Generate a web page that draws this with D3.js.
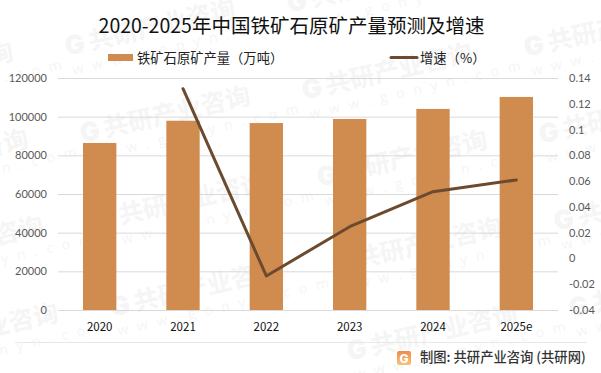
<!DOCTYPE html>
<html>
<head>
<meta charset="utf-8">
<script src="https://cdn.jsdelivr.net/npm/d3@7/dist/d3.min.js"></script>
<style>
html, body { margin: 0; padding: 0; background: #fff; }
svg { display: block; font-family: "Noto Sans CJK SC", sans-serif; }
</style>
</head>
<body>
<svg id="chart" width="601" height="373"></svg>
<script>
var years = ["2020", "2021", "2022", "2023", "2024", "2025e"];
var output = [86400, 97900, 96700, 98800, 104000, 110200];
var growth = [null, 0.1317, -0.0136, 0.0246, 0.0518, 0.0609];
var leftTicks = [0, 20000, 40000, 60000, 80000, 100000, 120000];
var rightTicks = [-0.04, -0.02, 0, 0.02, 0.04, 0.06, 0.08, 0.1, 0.12, 0.14];

var bar_color = "#d08b4e";
var line_color = "#6b4a2e";
var wm_color = "#f5f5f5";
var margin = {top: 78, bottom: 63, left: 58, right: 43};
var width = 601;
var height = 373;

var svg = d3.select("#chart");

/* Watermark sits behind everything, skip copies that land fully off the page */
var wm = svg.append("g").attr("class", "watermark");
for (var i = -1; i <= 4; i++) {
    for (var j = -1; j <= 2; j++) {
        var wx = 65 + i * 15 + j * 237;
        var wy = 46 + i * 87 + j * 44;
        if (wx < -175 || wx > 590 || wy < -5 || wy > 385) continue;
        var g = wm.append("g")
            .attr("transform", "translate(" + wx + "," + wy + ") rotate(-13)");
        g.append("text")
            .attr("x", 0).attr("y", 10)
            .attr("font-family", "Inter, sans-serif")
            .attr("font-weight", 900)
            .attr("font-size", 26)
            .attr("fill", wm_color)
            .text("G");
        g.append("text")
            .attr("x", 24).attr("y", 10)
            .attr("font-weight", 700)
            .attr("font-size", 25)
            .attr("fill", wm_color)
            .text("共研产业咨询");
        g.append("text")
            .attr("x", 2).attr("y", 30)
            .attr("font-family", "Open Sans, sans-serif")
            .attr("font-size", 14)
            .attr("letter-spacing", 9)
            .attr("fill", wm_color)
            .text("www.gonyn.com");
    }
}

var x = d3.scaleBand()
    .domain(years)
    .range([margin.left, width - margin.right])
    .paddingInner(0.6)
    .paddingOuter(0.3);

var xCenter = d3.scaleBand()
    .domain(years)
    .range([margin.left, width - margin.right]);

var yLeft = d3.scaleLinear()
    .domain([0, 120000])
    .range([height - margin.bottom, margin.top]);

var yRight = d3.scaleLinear()
    .domain([-0.04, 0.14])
    .range([height - margin.bottom, margin.top]);

/* Gridlines + left axis */
svg.append("g")
    .attr("class", "yLeft")
    .attr("transform", "translate(" + margin.left + ",0)")
    .call(d3.axisLeft(yLeft).tickValues(leftTicks).tickFormat(d => d)
        .tickSize(-(width - margin.left - margin.right)).tickPadding(11))
    .call(a => a.select(".domain").remove())
    .call(a => a.selectAll("line").attr("stroke", "#d9d9d9").attr("stroke-width", 1))
    .call(a => a.selectAll("text")
        .attr("font-family", "Lato, sans-serif")
        .attr("font-size", 11).attr("fill", "#595959"));

/* Right axis */
svg.append("g")
    .attr("class", "yRight")
    .attr("transform", "translate(" + (width - margin.right) + ",0)")
    .call(d3.axisRight(yRight).tickValues(rightTicks).tickFormat(d => d)
        .tickSize(0).tickPadding(11))
    .call(a => a.select(".domain").remove())
    .call(a => a.selectAll("text")
        .attr("font-family", "Lato, sans-serif")
        .attr("font-size", 11).attr("fill", "#595959"));

/* Bars */
svg.selectAll("rect.bar")
    .data(years)
    .join("rect")
    .attr("class", "bar")
    .attr("x", d => x(d))
    .attr("y", (d, i) => yLeft(output[i]))
    .attr("width", x.bandwidth())
    .attr("height", (d, i) => yLeft(0) - yLeft(output[i]))
    .attr("fill", bar_color);

/* Growth line, 2020 has no value */
var line2 = d3.line()
    .defined((d, i) => growth[i] !== null)
    .x(d => xCenter(d) + xCenter.bandwidth() / 2)
    .y((d, i) => yRight(growth[i]));

svg.append("path")
    .datum(years)
    .attr("d", line2)
    .attr("fill", "none")
    .attr("stroke", line_color)
    .attr("stroke-width", 3)
    .attr("stroke-linejoin", "round")
    .attr("stroke-linecap", "round");

/* Category labels */
svg.append("g")
    .attr("class", "xAxis")
    .attr("transform", "translate(0," + (height - margin.bottom) + ")")
    .call(d3.axisBottom(xCenter).tickSize(0).tickPadding(13))
    .call(a => a.select(".domain").remove())
    .call(a => a.selectAll("text")
        .attr("font-family", "Noto Sans CJK SC, sans-serif")
        .attr("font-size", 11.5).attr("fill", "#111"));

/* Title */
svg.append("text")
    .attr("x", 291.5)
    .attr("y", 33)
    .attr("text-anchor", "middle")
    .attr("font-size", 19.5)
    .attr("fill", "#111")
    .text("2020-2025年中国铁矿石原矿产量预测及增速");

/* Legend */
svg.append("rect")
    .attr("x", 108).attr("y", 54)
    .attr("width", 25).attr("height", 7)
    .attr("fill", bar_color);
svg.append("text")
    .attr("x", 137).attr("y", 63)
    .attr("font-size", 13.3)
    .attr("fill", "#222")
    .text("铁矿石原矿产量（万吨）");
svg.append("line")
    .attr("x1", 391).attr("x2", 417)
    .attr("y1", 57.5).attr("y2", 57.5)
    .attr("stroke", line_color)
    .attr("stroke-width", 3)
    .attr("stroke-linecap", "round");
svg.append("text")
    .attr("x", 420).attr("y", 63)
    .attr("font-size", 13.3)
    .attr("fill", "#222")
    .text("增速（%）");

/* Footer */
svg.append("line")
    .attr("x1", 15).attr("x2", 587)
    .attr("y1", 342.5).attr("y2", 342.5)
    .attr("stroke", "#e8e8e8");

var grad = svg.append("defs").append("linearGradient")
    .attr("id", "logoGrad")
    .attr("x1", 0).attr("y1", 0).attr("x2", 0).attr("y2", 1);
grad.append("stop").attr("offset", 0).attr("stop-color", "#f08a4b");
grad.append("stop").attr("offset", 1).attr("stop-color", "#f8c27a");

svg.append("rect")
    .attr("x", 397).attr("y", 351)
    .attr("width", 14).attr("height", 14)
    .attr("rx", 2)
    .attr("fill", "url(#logoGrad)");
svg.append("text")
    .attr("x", 404).attr("y", 362.5)
    .attr("text-anchor", "middle")
    .attr("font-family", "Inter, sans-serif")
    .attr("font-weight", 800)
    .attr("font-size", 12)
    .attr("fill", "#fff")
    .text("G");
svg.append("text")
    .attr("x", 420).attr("y", 362)
    .attr("font-size", 13.3)
    .attr("font-weight", 500)
    .attr("fill", "#333")
    .text("制图: 共研产业咨询 (共研网)");
</script>
</body>
</html>
